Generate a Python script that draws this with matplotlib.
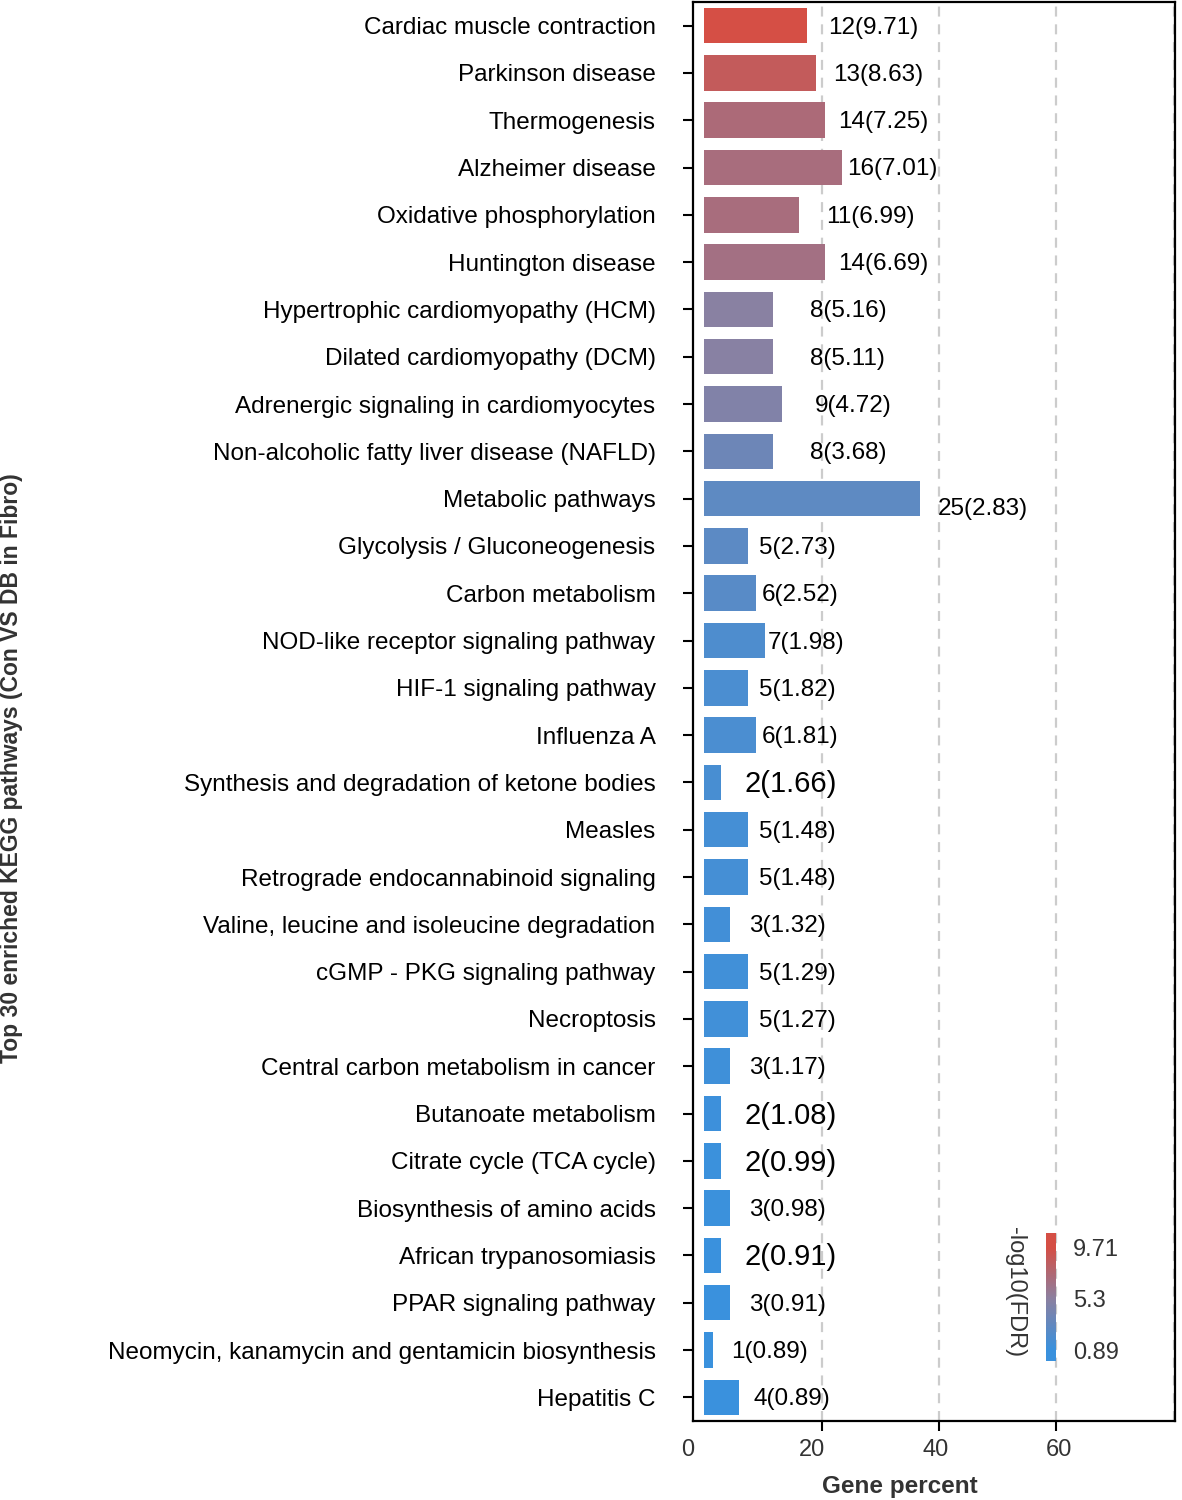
import numpy as np
import matplotlib.pyplot as plt
from matplotlib.colors import LinearSegmentedColormap, Normalize
from matplotlib.transforms import ScaledTranslation

plt.rcParams['font.family'] = ['Liberation Sans', 'DejaVu Sans']

# pathways, top to bottom
pathways = ["Cardiac muscle contraction", "Parkinson disease", "Thermogenesis",
            "Alzheimer disease", "Oxidative phosphorylation", "Huntington disease",
            "Hypertrophic cardiomyopathy (HCM)", "Dilated cardiomyopathy (DCM)",
            "Adrenergic signaling in cardiomyocytes",
            "Non-alcoholic fatty liver disease (NAFLD)", "Metabolic pathways",
            "Glycolysis / Gluconeogenesis", "Carbon metabolism",
            "NOD-like receptor signaling pathway", "HIF-1 signaling pathway",
            "Influenza A", "Synthesis and degradation of ketone bodies", "Measles",
            "Retrograde endocannabinoid signaling",
            "Valine, leucine and isoleucine degradation", "cGMP - PKG signaling pathway",
            "Necroptosis", "Central carbon metabolism in cancer", "Butanoate metabolism",
            "Citrate cycle (TCA cycle)", "Biosynthesis of amino acids",
            "African trypanosomiasis", "PPAR signaling pathway",
            "Neomycin, kanamycin and gentamicin biosynthesis", "Hepatitis C"]
gene_count = [12, 13, 14, 16, 11, 14, 8, 8, 9, 8, 25, 5, 6, 7, 5, 6, 2, 5, 5, 3,
              5, 5, 3, 2, 2, 3, 2, 3, 1, 4]
gene_percent = [17.6, 19.1, 20.6, 23.5, 16.2, 20.6, 11.8, 11.8, 13.2, 11.8, 36.8,
                7.4, 8.8, 10.3, 7.4, 8.8, 2.9, 7.4, 7.4, 4.4, 7.4, 7.4, 4.4, 2.9,
                2.9, 4.4, 2.9, 4.4, 1.5, 5.9]
log_fdr = [9.71, 8.63, 7.25, 7.01, 6.99, 6.69, 5.16, 5.11, 4.72, 3.68, 2.83, 2.73,
           2.52, 1.98, 1.82, 1.81, 1.66, 1.48, 1.48, 1.32, 1.29, 1.27, 1.17, 1.08,
           0.99, 0.98, 0.91, 0.91, 0.89, 0.89]

# label gap after the bar end (pixels), as in the original
label_pad = [21, 17, 13, 5, 27, 13, 37, 37, 33, 37, 18, 11, 6, 3, 11, 6, 23, 11,
             11, 19, 11, 11, 19, 23, 23, 19, 23, 19, 18, 15]
big_labels = [16, 23, 24, 26]

cmap = LinearSegmentedColormap.from_list(
    'fdr', ['#3a91dd', '#8c80a0', '#d54f45'])
norm = Normalize(min(log_fdr), max(log_fdr))

fig = plt.figure(figsize=(11.82, 15), dpi=100)
ax = fig.add_axes([0.5863, 0.0527, 0.4078, 0.946])

y = np.arange(len(pathways))
ax.barh(y, gene_percent, height=0.75, color=cmap(norm(np.array(log_fdr))), zorder=3)

for i in range(len(pathways)):
    txt = "%d(%.2f)" % (gene_count[i], log_fdr[i])
    size = 21 if i in big_labels else 17.5
    dy = -10 if i == 10 else -2
    ax.annotate(txt, xy=(gene_percent[i], i), xytext=(label_pad[i], dy),
                textcoords='offset pixels', ha='left', va='center',
                fontsize=size, color='black', zorder=4)

ax.set_xlim(-1.9, 80.2)
ax.set_ylim(len(pathways) - 0.5, -0.5)
ax.set_yticks(y)
ax.set_yticklabels(pathways, fontsize=17.5, color='black')
ax.set_xticks([0, 20, 40, 60])
ax.set_xticklabels(['0', '20', '40', '60'], fontsize=17, color='#333333')
ax.tick_params(axis='y', length=7, width=1.5, pad=20)
ax.tick_params(axis='x', length=7, width=1.5, pad=6)
ax.xaxis.get_major_ticks()[0].tick1line.set_visible(False)
# the tick labels in the original sit a little off their ticks
for lab, dx in zip(ax.get_xticklabels(), [-16, -10, -3, 3]):
    lab.set_transform(lab.get_transform() + ScaledTranslation(dx / 100, 0, fig.dpi_scale_trans))

for xv in [20, 40, 60, 80]:
    ax.axvline(xv, color='#cccccc', lw=1.6, linestyle=(0, (4.5, 3.5)), zorder=1)
for s in ax.spines.values():
    s.set_linewidth(1.6)
    s.set_color('black')

fig.text(900 / 1182, 1 - 1487 / 1500, 'Gene percent', fontsize=17.5,
         fontweight='bold', color='#333333', ha='center', va='center')
fig.text(12 / 1182, 1 - 768 / 1500,
         'Top 30 enriched KEGG pathways (Con VS DB in Fibro)', fontsize=16.5,
         fontweight='bold', color='#333333', ha='center', va='center', rotation=90)

# colour legend
cax = fig.add_axes([1046 / 1182, 1 - 1361 / 1500, 10 / 1182, 128 / 1500])
lo, hi = -0.05, 10.91
grad = np.linspace(lo, hi, 200)[:, None]
cax.imshow(grad, extent=[0, 1, lo, hi], origin='lower', aspect='auto',
           cmap=cmap, norm=norm)
cax.set_xticks([])
cax.set_ylim(lo, hi)
cax.set_yticks([0.89, 5.3, 9.71])
cax.set_yticklabels(['0.89', '5.3', '9.71'], fontsize=17, color='#333333')
cax.yaxis.tick_right()
cax.tick_params(axis='y', length=0, pad=12)
for s in cax.spines.values():
    s.set_visible(False)
fig.text(1015 / 1182, 1 - 1292 / 1500, '-log10(FDR)', fontsize=17,
         color='#333333', ha='center', va='center', rotation=270)

fig.savefig('out.png', dpi=100)
